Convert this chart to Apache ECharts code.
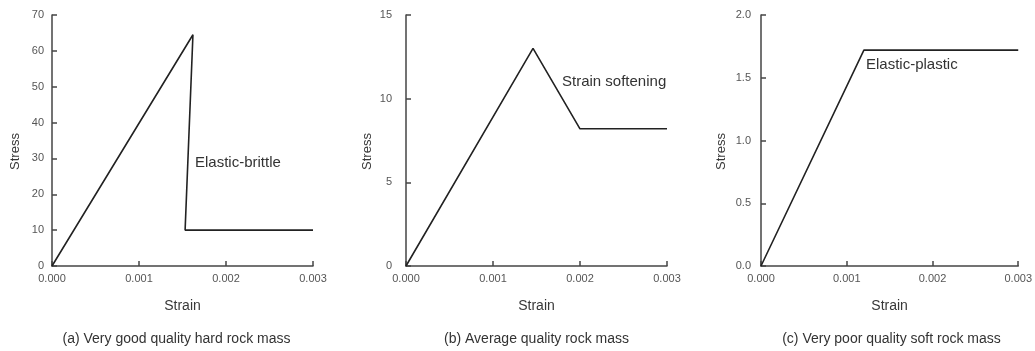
<!DOCTYPE html>
<html>
<head>
<meta charset="utf-8">
<title>Rock mass stress–strain behaviour</title>
<script src="https://cdn.jsdelivr.net/npm/echarts@6/dist/echarts.min.js"></script>
<style>
  html, body { margin: 0; padding: 0; background: #fff; }
  #chart { width: 1035px; height: 351px; }
</style>
</head>
<body>
<div id="chart"></div>
<script>
// Stress–strain curves for three rock mass qualities
const strainTicks = [0, 0.001, 0.002, 0.003];

const strainA = [0, 0.00162, 0.00153, 0.003];
const stressA = [0, 64.5, 10, 10];

const strainB = [0, 0.00146, 0.002, 0.003];
const stressB = [0, 13, 8.2, 8.2];

const strainC = [0, 0.0012, 0.003];
const stressC = [0, 1.72, 1.72];

const stressMax = [70, 15, 2.0];
const stressStep = [10, 5, 0.5];
const stressDecimals = [0, 0, 1];

const behaviourLabels = ['Elastic-brittle', 'Strain softening', 'Elastic-plastic'];
const captions = [
  '(a) Very good quality hard rock mass',
  '(b) Average quality rock mass',
  '(c) Very poor quality soft rock mass'
];

const FONT = '"Liberation Sans", Arial, sans-serif';
const grids = [
  { left: 52,  right: 722, top: 15, bottom: 85 },
  { left: 406, right: 368, top: 15, bottom: 85 },
  { left: 761, right: 13,  top: 15, bottom: 85 }
];
const yLabelMargin = [8, 14, 10];
const yNameGap = [30, 32, 33];

const pairs = (xs, ys) => xs.map((x, i) => [x, ys[i]]);
const curves = [pairs(strainA, stressA), pairs(strainB, stressB), pairs(strainC, stressC)];

const axisColor = '#454545';

const xAxes = grids.map((g, i) => ({
  type: 'value', gridIndex: i,
  min: strainTicks[0], max: strainTicks[strainTicks.length - 1], interval: 0.001,
  name: 'Strain', nameLocation: 'middle', nameGap: 33,
  nameTextStyle: { fontFamily: FONT, fontSize: 14, color: '#383838' },
  axisLine: { show: true, onZero: false, lineStyle: { color: axisColor, width: 1.5 } },
  axisTick: { show: true, inside: true, length: 5, lineStyle: { color: axisColor, width: 1.5 } },
  axisLabel: { show: true, fontFamily: FONT, fontSize: 11, color: '#555', margin: 7,
               formatter: v => v.toFixed(3) },
  splitLine: { show: false }
}));

const yAxes = grids.map((g, i) => ({
  type: 'value', gridIndex: i,
  min: 0, max: stressMax[i], interval: stressStep[i],
  name: 'Stress', nameLocation: 'middle', nameGap: yNameGap[i],
  nameTextStyle: { fontFamily: FONT, fontSize: 13, color: '#383838', padding: [0, 22, 0, 0] },
  axisLine: { show: true, onZero: false, lineStyle: { color: axisColor, width: 1.5 } },
  axisTick: { show: true, inside: true, length: 5, lineStyle: { color: axisColor, width: 1.5 } },
  axisLabel: { show: true, fontFamily: FONT, fontSize: 11, color: '#555', margin: yLabelMargin[i],
               formatter: v => v.toFixed(stressDecimals[i]) },
  splitLine: { show: false }
}));

const series = curves.map((data, i) => ({
  type: 'line', xAxisIndex: i, yAxisIndex: i,
  data: data, showSymbol: false, symbol: 'none', animation: false,
  lineStyle: { color: '#222', width: 1.6 }
}));

// Behaviour annotations and panel captions
const labelPos = [[195, 163], [562, 82], [866, 65]];
const graphic = [];
behaviourLabels.forEach((t, i) => {
  graphic.push({
    type: 'text', x: labelPos[i][0], y: labelPos[i][1],
    style: { text: t, fill: '#333', font: '15px ' + FONT, verticalAlign: 'middle', align: 'left' }
  });
});
captions.forEach((t, i) => {
  const g = grids[i];
  const cx = (g.left + (1035 - g.right)) / 2 - (i === 0 ? 6 : 0);
  graphic.push({
    type: 'text', x: cx, y: 339,
    style: { text: t, fill: '#333', font: '14px ' + FONT, verticalAlign: 'middle', align: 'center' }
  });
});

const chart = echarts.init(document.getElementById('chart'), null, { renderer: 'canvas' });
chart.setOption({
  backgroundColor: '#fff',
  animation: false,
  grid: grids,
  xAxis: xAxes,
  yAxis: yAxes,
  series: series,
  graphic: graphic
});
</script>
</body>
</html>
